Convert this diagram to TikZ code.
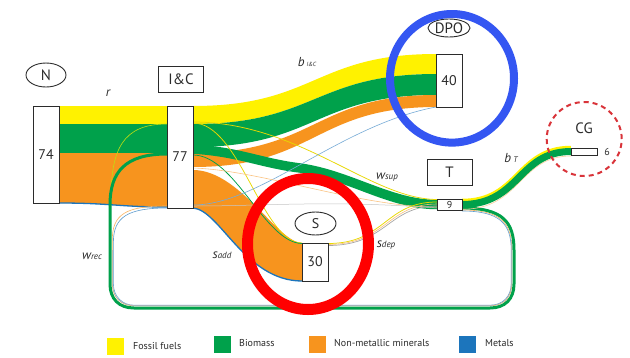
\documentclass[tikz,border=0pt]{standalone}
\usepackage{fontspec}
\setmainfont{PT Sans}
\usetikzlibrary{shapes.geometric}
\definecolor{fyel}{HTML}{FFF200}
\definecolor{tyel}{HTML}{E8D800}
\definecolor{fgrn}{HTML}{00A14B}
\definecolor{forg}{HTML}{F7941E}
\definecolor{fblu}{HTML}{1C75BC}
\definecolor{ringred}{HTML}{FF0000}
\definecolor{ringblue}{HTML}{3456F2}
\definecolor{cgred}{HTML}{D9343A}
\definecolor{ink}{HTML}{2B2B2B}
\tikzset{
  stockbox/.style={draw=ink, line width=0.9pt, fill=white, inner sep=0pt, outer sep=0pt, text=ink, font=\fontsize{14}{14}\selectfont},
  labbox/.style={draw=ink, line width=0.9pt, fill=white, inner sep=0pt, minimum width=45pt, minimum height=26pt, text=ink, font=\fontsize{15}{15}\selectfont},
  labell/.style={draw=ink, line width=0.9pt, ellipse, inner sep=0pt, text=ink, font=\fontsize{15}{15}\selectfont},
  flowlbl/.style={text=ink, font=\itshape\fontsize{13}{13}\selectfont, inner sep=0pt},
  thinflow/.style={line width=0.75pt},
  legsq/.style={minimum size=17pt, inner sep=0pt},
  legtxt/.style={anchor=west, text=ink, font=\fontsize{10}{10}\selectfont, inner sep=0pt},
}
\newcommand{\flowband}[9]{%
  \fill[#1] (#2,#3) .. controls (#8,#3) and (#9,#6) .. (#5,#6) -- (#5,#7) .. controls (#9,#7) and (#8,#4) .. (#2,#4) -- cycle;}
\begin{document}
\begin{tikzpicture}[x=1pt,y=-1pt]
\useasboundingbox (0,0) rectangle (630,357);
\fill[white] (0,0) rectangle (630,357);

% ---- N -> I&C (r)
\fill[fyel] (59,106) rectangle (167,124);
\fill[fgrn] (59,124) rectangle (167,153);
\fill[forg] (59,153) -- (167,153) -- (167,207) .. controls (120,207) and (110,203) .. (59,203) -- cycle;
\draw[fblu, line width=1.3pt] (59,203) .. controls (110,203) and (120,207) .. (167,207);

% ---- I&C -> DPO (b_I&C)
\flowband{fyel}{193}{106}{124}{436}{54}{74}{315}{315}
\flowband{fgrn}{193}{124}{147}{436}{74}{95}{315}{315}
\flowband{forg}{193}{153}{167}{436}{95}{107}{315}{315}

% ---- I&C -> S (s_add)
\fill[forg] (193,170) .. controls (240,170) and (278,243) .. (302,243) -- (302,281) .. controls (245,281) and (220,210) .. (193,208) -- cycle;
\draw[fblu, line width=1.3pt] (193,208) .. controls (220,210) and (245,281) .. (302,281);

% ---- I&C -> 9 (w_sup)
\draw[fgrn, line width=9.5pt] (193,149) .. controls (240,152) and (260,163) .. (300,168) .. controls (350,175) and (390,204.5) .. (437,204.5);

% ---- thin flows
\draw[tyel, thinflow] (193,122) .. controls (300,122) and (370,199) .. (437,199.5);
\draw[tyel, thinflow] (193,123) .. controls (240,123) and (262,243) .. (302,243);
\draw[fgrn, thinflow] (193,155) .. controls (235,155) and (265,243) .. (302,243.5);
\draw[fblu!60, line width=0.6pt] (193,205) .. controls (260,205) and (340,125) .. (436,107);
\draw[forg!55, line width=0.6pt] (193,168) .. controls (260,170) and (360,207) .. (437,207);
\draw[gray!45, line width=0.5pt] (193,206) .. controls (270,206) and (330,200) .. (437,208);

% ---- S -> 9 (s_dep)
\draw[tyel, thinflow] (328,243.5) .. controls (385,243.5) and (385,202) .. (437,202);
\draw[forg!60, line width=0.6pt] (328,244.5) .. controls (386,244.5) and (387,204) .. (437,204);
\draw[gray!70, line width=0.7pt] (328,245.5) .. controls (387,245.5) and (388,206) .. (437,206);

% ---- recycling loop (w_rec)
\draw[fyel!75!fgrn, line width=0.6pt] (167,124) .. controls (122,124) and (111,150) .. (111,200);
\draw[forg!70, line width=0.6pt] (462,210) .. controls (501,210) and (511.8,223) .. (511.8,250) -- (511.8,284) .. controls (511.8,297) and (504,305.8) .. (490,305.8) -- (134,305.8) .. controls (121,305.8) and (112.3,297) .. (112.3,284) -- (112.3,240) .. controls (112.3,214) and (126,206) .. (167,206);
\draw[fblu!70, line width=0.6pt] (462,211) .. controls (500,211) and (511.2,224) .. (511.2,250) -- (511.2,284) .. controls (511.2,296) and (503,305.2) .. (490,305.2) -- (134,305.2) .. controls (122,305.2) and (113.4,296) .. (113.4,284) -- (113.4,242) .. controls (113.4,217) and (128,208) .. (167,208);
\draw[gray!60, line width=0.6pt] (511.3,240) -- (511.3,284) .. controls (511.3,297) and (504,305.4) .. (490,305.4) -- (134,305.4) .. controls (121,305.4) and (112.6,297) .. (112.6,284) -- (112.6,250);
\draw[fgrn, line width=3pt] (462,208) .. controls (503,208) and (514,222) .. (514,250) -- (514,284) .. controls (514,299) and (505,308) .. (490,308) -- (134,308) .. controls (119,308) and (110,299) .. (110,284) -- (110,205) .. controls (110,172) and (125,154) .. (167,154);

% ---- 9 -> CG (b_T)
\draw[forg!45, line width=0.6pt] (462,209.3) .. controls (521,209.3) and (519,156) .. (571,156);
\draw[fyel, line width=8.5pt] (462,203) .. controls (520,203) and (518,150) .. (571,150);
\draw[fgrn, line width=7pt] (462,204.5) .. controls (520,204.5) and (518,151.5) .. (571,151.5);

% ---- nodes
\node[labell, minimum width=40pt, minimum height=24pt] (Nl) at (46,75) {N};
\node[stockbox, minimum width=26pt, minimum height=97pt] (N) at (46,154.5) {74};
\node[labbox] (ICl) at (181,79) {I\&C};
\node[stockbox, minimum width=26pt, minimum height=102pt] (IC) at (180,157) {77};
\node[labell, minimum width=42pt, minimum height=18pt] (DPOl) at (449,28) {DPO};
\node[stockbox, minimum width=26pt, minimum height=53pt] (DPO) at (449,80.5) {40};
\node[labbox] (Tl) at (449.5,172) {T};
\node[stockbox, minimum width=25pt, minimum height=11pt, font=\fontsize{10}{10}\selectfont] (nine) at (449.5,204.5) {9};
\node[labell, minimum width=41pt, minimum height=23pt, font=\fontsize{14}{14}\selectfont] (Sl) at (315.5,223.5) {S};
\node[stockbox, minimum width=26pt, minimum height=38pt] (S) at (315,262) {30};
\node[stockbox, minimum width=26pt, minimum height=7pt] (CG) at (584,151.5) {};
\node[text=ink, font=\fontsize{10}{10}\selectfont, inner sep=0pt] (CGv) at (607,152) {6};
\node[text=ink, font=\fontsize{15}{15}\selectfont, inner sep=0pt] (CGl) at (584,128) {CG};

% ---- flow labels
\node[flowlbl] (lr) at (108,93) {r};
\node[flowlbl] (lbic) at (307,62) {b\,{\fontsize{6}{6}\selectfont I\&C}};
\node[flowlbl] (lwsup) at (387,177) {w{\fontsize{9}{9}\selectfont sup}};
\node[flowlbl] (lwrec) at (92,256) {w{\fontsize{9}{9}\selectfont rec}};
\node[flowlbl] (lsadd) at (222,255) {s{\fontsize{9}{9}\selectfont add}};
\node[flowlbl] (lsdep) at (386,245) {s{\fontsize{9}{9}\selectfont dep}};
\node[flowlbl] (lbt) at (511,158) {b\,{\fontsize{8}{8}\selectfont T}};

% ---- highlight rings
\draw[ringblue, line width=8pt] (452,78.3) ellipse [x radius=62pt, y radius=64.3pt];
\draw[ringred, line width=11pt] (308,244) ellipse [x radius=60.5pt, y radius=65.5pt];
\draw[cgred, line width=2pt, dash pattern=on 5pt off 4pt] (584.2,139) ellipse [x radius=37.5pt, y radius=37pt];

% ---- legend
\node[legsq, fill=fyel] (lgF) at (115.5,346.5) {};
\node[legtxt] (lgFt) at (133,346) {Fossil fuels};
\node[legsq, fill=fgrn] (lgB) at (222,344) {};
\node[legtxt] (lgBt) at (239,343) {Biomass};
\node[legsq, fill=forg] (lgN) at (317,344) {};
\node[legtxt] (lgNt) at (334,343) {Non-metallic minerals};
\node[legsq, fill=fblu] (lgM) at (467.5,344) {};
\node[legtxt] (lgMt) at (485,343) {Metals};
\end{tikzpicture}
\end{document}
